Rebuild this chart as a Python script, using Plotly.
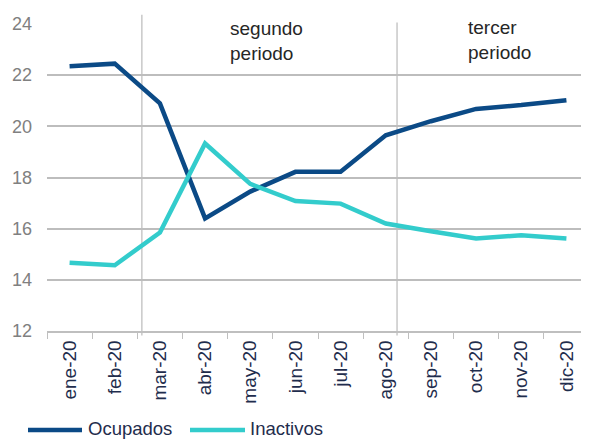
import plotly.graph_objects as go

months = ["ene-20", "feb-20", "mar-20", "abr-20", "may-20", "jun-20",
          "jul-20", "ago-20", "sep-20", "oct-20", "nov-20", "dic-20"]
ocupados = [22.35, 22.45, 20.9, 16.4, 17.45, 18.22, 18.22, 19.65, 20.2, 20.68, 20.83, 21.02]
inactivos = [14.67, 14.57, 15.85, 19.33, 17.75, 17.08, 16.98, 16.2, 15.9, 15.62, 15.74, 15.62]
y_ticks = [12, 14, 16, 18, 20, 22, 24]
series_names = ["Ocupados", "Inactivos"]
series_colors = ["#0b4a86", "#33cccc"]

# page body has an 8px margin: figure sized/margined to compensate
W, H = 581, 432
ML, MR, MT, MB = 39, 0, 16, 109

fig = go.Figure()
for name, vals, col in zip(series_names, [ocupados, inactivos], series_colors):
    fig.add_trace(go.Scatter(x=months, y=vals, mode="lines", name=name,
                             line=dict(color=col, width=4.5), showlegend=False))

fig.add_shape(type="line", xref="x", yref="paper", x0=1.6, x1=1.6, y0=-0.015, y1=1.03,
              line=dict(color="#c8c8c8", width=1.5), layer="below")
fig.add_shape(type="line", xref="x", yref="paper", x0=7.25, x1=7.25, y0=-0.015, y1=1.005,
              line=dict(color="#c8c8c8", width=1.5), layer="below")

fig.add_annotation(x=3.5, y=1.025, xref="x", yref="paper", text="segundo<br>periodo",
                   showarrow=False, xanchor="left", yanchor="top", align="left",
                   font=dict(family="Liberation Sans, Arial", size=19, color="#262626"))
fig.add_annotation(x=8.77, y=1.03, xref="x", yref="paper", text="tercer<br>periodo",
                   showarrow=False, xanchor="left", yanchor="top", align="left",
                   font=dict(family="Liberation Sans, Arial", size=19, color="#262626"))

# manual legend (long line samples as in the reference)
pw = 542.0
ph = 307.0
def px(x):
    return (x - 47) / pw
def py(y):
    return (331 - y) / ph
leg = [(28, 82, 86), (190, 245, 248)]
for (x0, x1, xt), name, col in zip(leg, series_names, series_colors):
    fig.add_shape(type="line", xref="paper", yref="paper", x0=px(x0), x1=px(x1),
                  y0=py(430), y1=py(430), line=dict(color=col, width=4.5))
    fig.add_annotation(x=px(xt), y=py(428), xref="paper", yref="paper", text=name,
                       showarrow=False, xanchor="left", yanchor="middle",
                       font=dict(family="Liberation Sans, Arial", size=18.5, color="#1f2d4d"))

fig.update_layout(
    width=W, height=H,
    margin=dict(l=ML, r=MR, t=MT, b=MB, autoexpand=False),
    paper_bgcolor="white", plot_bgcolor="white",
    font=dict(family="Liberation Sans, Arial", size=17, color="#1f2d4d"),
    showlegend=False,
    xaxis=dict(type="category", tickangle=-90, tickson="boundaries",
               ticks="outside", ticklen=6, tickcolor="#bfbfbf",
               showline=True, linecolor="#bfbfbf", linewidth=1.5,
               showgrid=False, tickfont=dict(size=19, color="#1f2d4d"),
               range=[-0.5, 11.5], automargin=False),
    yaxis=dict(range=[12, 24], tickvals=y_ticks, showgrid=True,
               gridcolor="#bdbdbd", gridwidth=1.5, zeroline=False, automargin=False,
               tickfont=dict(size=18, color="#808080"), ticks="", ticklabelstandoff=14),
)

fig.write_html("out.html")
